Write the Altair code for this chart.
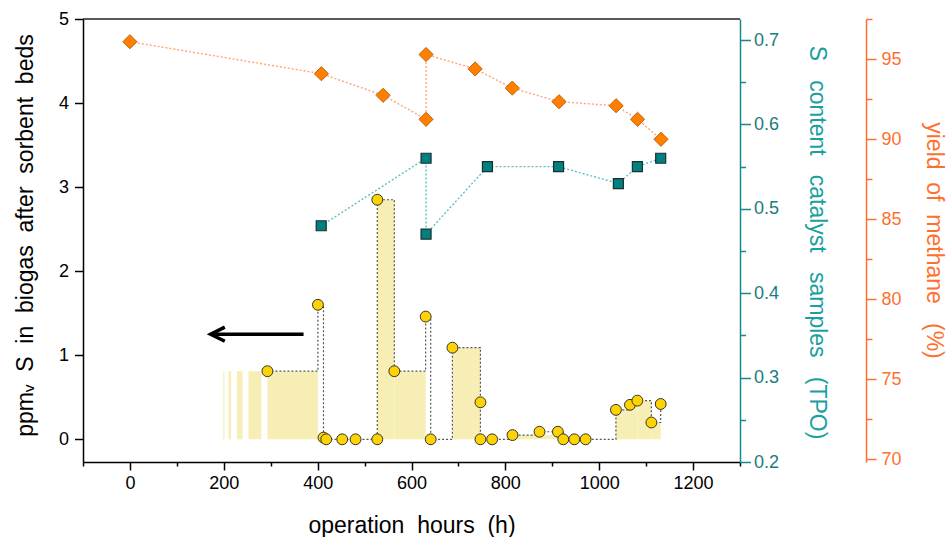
import altair as alt
import pandas as pd

# ---- data ----
# ppmv S in biogas after sorbent beds (yellow circles, left axis)
ppm_hours = [293, 400.6, 412.5, 418.3, 452.4, 480.8, 527.1, 527.1, 563.4, 630.2,
             640.9, 687.2, 746.9, 746.9, 771.9, 815.2, 872.8, 911.9, 923.4, 946.9,
             971, 1035.6, 1065.5, 1081.3, 1111.2, 1131]
ppm_values = [0.81, 1.6, 0.02, 0.0, 0.0, 0.0, 0.0, 2.85, 0.81, 1.46,
              0.0, 1.09, 0.44, 0.0, 0.0, 0.05, 0.09, 0.09, 0.0, 0.0,
              0.0, 0.35, 0.41, 0.46, 0.2, 0.42]

# shaded operating periods (yellow fill)
fill_start = [199, 210, 228, 252.5, 293, 527.1, 563.4, 687.2, 815.2, 1035.6, 1065.5, 1081.3, 1111.2]
fill_end = [201.5, 215.5, 240, 280, 400.6, 563.4, 630.2, 746.9, 911.9, 1065.5, 1081.3, 1111.2, 1131]
fill_level = [0.81, 0.81, 0.81, 0.81, 0.81, 2.85, 0.81, 1.09, 0.05, 0.35, 0.41, 0.46, 0.2]

# S content catalyst samples (TPO) (teal squares)
tpo_hours = [407.6, 631, 631, 761.8, 913.4, 1040.8, 1081.3, 1131]
tpo_values = [0.48, 0.56, 0.47, 0.55, 0.55, 0.53, 0.55, 0.56]

# yield of methane (%) (orange diamonds)
ch4_hours = [0, 408, 539.5, 631, 631, 735.6, 814.8, 914.4, 1036, 1081.7, 1131.6]
ch4_values = [96.1, 94.1, 92.75, 91.25, 95.3, 94.4, 93.2, 92.35, 92.1, 91.25, 90.0]

# arrow annotation
arrow_hours = [172, 370]
arrow_level = 1.25

# axis tick values
x_ticks = [-100, 0, 100, 200, 300, 400, 500, 600, 700, 800, 900, 1000, 1100, 1200, 1300]
left_ticks = [0, 0.5, 1, 1.5, 2, 2.5, 3, 3.5, 4, 4.5, 5]
tpo_ticks = [0.2, 0.25, 0.3, 0.35, 0.4, 0.45, 0.5, 0.55, 0.6, 0.65, 0.7]
ch4_ticks = [70, 72.5, 75, 77.5, 80, 82.5, 85, 87.5, 90, 92.5, 95, 97.5]

FONT = "Liberation Sans"
TEAL_AX = "#178A8A"
TEAL_LAB = "#1A7C7C"
TEAL_TIT = "#1AA0A0"
ORANGE = "#FF6F2D"

ppm_df = pd.DataFrame({"h": ppm_hours, "v": ppm_values, "i": list(range(len(ppm_hours)))})
fill_df = pd.DataFrame({"x0": fill_start, "x1": fill_end, "top": fill_level, "base": [0] * len(fill_start)})
tpo_df = pd.DataFrame({"h": tpo_hours, "v": tpo_values, "i": list(range(len(tpo_hours)))})
ch4_df = pd.DataFrame({"h": ch4_hours, "v": ch4_values, "i": list(range(len(ch4_hours)))})
arrow_df = pd.DataFrame({"h": arrow_hours, "v": [arrow_level, arrow_level]})
head_df = pd.DataFrame({"h": [arrow_hours[0]], "v": [arrow_level]})


def cond(test, major, minor):
    return {"condition": {"test": test, "value": major}, "value": minor}


x_scale = alt.Scale(domain=[-100, 1300], nice=False, zero=False)
x_axis = alt.Axis(
    values=x_ticks, format="d",
    labelExpr="(datum.value % 200 === 0 && datum.value >= 0 && datum.value <= 1200) ? datum.label : ''",
    tickSize=cond("datum.value % 200 === 0", 8, 4),
    labelOverlap=False, labelFlush=False, grid=False,
    domainColor="black", tickColor="black", domainWidth=1.5, tickWidth=1.5,
    labelColor="black", labelFontSize=18, labelPadding=4,
    title="operation\u00a0 hours\u00a0 (h)", titleFontSize=23, titleColor="black",
    titleBaseline="alphabetic", titleY=70,
)

left_scale = alt.Scale(domain=[-0.27, 5], nice=False, zero=False)
left_axis = alt.Axis(
    orient="left", values=left_ticks, format="d",
    labelExpr="datum.value % 1 === 0 ? datum.label : ''",
    tickSize=cond("datum.value % 1 === 0", 8.5, 4.5),
    labelOverlap=False, labelFlush=False, grid=False,
    domainColor="black", tickColor="black", domainWidth=1.5, tickWidth=1.5,
    labelColor="black", labelFontSize=18, labelPadding=6,
    title="ppm\u1d65\u00a0 S\u00a0 in\u00a0 biogas\u00a0 after\u00a0 sorbent\u00a0 beds",
    titleFontSize=23, titleColor="black", titleAngle=270,
    titleAlign="center", titleBaseline="middle", titleX=-58, titleY=216,
)

tpo_scale = alt.Scale(domain=[0.2, 0.725], nice=False, zero=False)
tpo_axis = alt.Axis(
    orient="right", values=tpo_ticks,
    labelExpr="abs(datum.value*10 - round(datum.value*10)) < 0.001 ? format(datum.value, '.1f') : ''",
    tickSize=cond("abs(datum.value*10 - round(datum.value*10)) < 0.001", 10.5, 5.5),
    labelOverlap=False, labelFlush=False, grid=False,
    domainColor=TEAL_AX, tickColor=TEAL_AX, domainWidth=1.5, tickWidth=1.5,
    labelColor=TEAL_LAB, labelFontSize=18, labelPadding=3,
    title="S\u00a0\u00a0 content\u00a0\u00a0 catalyst\u00a0\u00a0 samples\u00a0\u00a0 (TPO)",
    titleFontSize=23, titleColor=TEAL_TIT, titleAngle=90,
    titleAlign="center", titleBaseline="middle", titleX=76, titleY=223,
)

ch4_scale = alt.Scale(domain=[69.83, 97.52], nice=False, zero=False)
ch4_axis = alt.Axis(
    orient="right", offset=126, values=ch4_ticks, format="d",
    labelExpr="datum.value % 5 === 0 ? datum.label : ''",
    tickSize=cond("datum.value % 5 === 0", 10, 6),
    labelOverlap=False, labelFlush=False, grid=False,
    domainColor=ORANGE, tickColor=ORANGE, domainWidth=1.5, tickWidth=1.5,
    labelColor=ORANGE, labelFontSize=18, labelPadding=5,
    title="yield\u00a0 of\u00a0 methane\u00a0\u00a0 (%)",
    titleFontSize=23, titleColor=ORANGE, titleAngle=90,
    titleAlign="center", titleBaseline="middle", titleX=67, titleY=221,
)


def X(field):
    return alt.X(f"{field}:Q", scale=x_scale, axis=x_axis)


fill_layer = alt.Chart(fill_df).mark_rect(color="#F6EEB4", opacity=1).encode(
    x=X("x0"), x2=alt.X2("x1:Q"),
    y=alt.Y("base:Q", scale=left_scale, axis=left_axis), y2=alt.Y2("top:Q"),
)

step_layer = alt.Chart(ppm_df).mark_line(
    interpolate="step-after", color="#555555", strokeDash=[2, 2], strokeWidth=1.2
).encode(
    x=X("h"), y=alt.Y("v:Q", scale=left_scale, axis=None), order=alt.Order("i:Q"),
)

circle_layer = alt.Chart(ppm_df).mark_point(
    shape="circle", filled=True, fill="#FFD300", stroke="#333333",
    strokeWidth=1, size=118, opacity=1,
).encode(x=X("h"), y=alt.Y("v:Q", scale=left_scale, axis=None))

arrow_line = alt.Chart(arrow_df).mark_line(color="black", strokeWidth=3.5).encode(
    x=X("h"), y=alt.Y("v:Q", scale=left_scale, axis=None)
)

arrow_head = alt.Chart(head_df).mark_point(
    shape="M2,-1L0,0L2,1", filled=False, stroke="black", strokeWidth=3.5,
    size=200, opacity=1, strokeJoin="miter",
).encode(x=X("h"), y=alt.Y("v:Q", scale=left_scale, axis=None))

tpo_line = alt.Chart(tpo_df).mark_line(color="#5EC0C0", strokeDash=[2, 2], strokeWidth=1.4).encode(
    x=X("h"), y=alt.Y("v:Q", scale=tpo_scale, axis=tpo_axis), order=alt.Order("i:Q"),
)

tpo_pts = alt.Chart(tpo_df).mark_point(
    shape="square", filled=True, fill="#008080", stroke="#1E2E2E",
    strokeWidth=1.2, size=100, opacity=1,
).encode(x=X("h"), y=alt.Y("v:Q", scale=tpo_scale, axis=None))

ch4_line = alt.Chart(ch4_df).mark_line(color="#FFA46E", strokeDash=[2, 2], strokeWidth=1.4).encode(
    x=X("h"), y=alt.Y("v:Q", scale=ch4_scale, axis=ch4_axis), order=alt.Order("i:Q"),
)

ch4_pts = alt.Chart(ch4_df).mark_point(
    shape="diamond", filled=True, fill="#FF8000", stroke="#C2600C",
    strokeWidth=1, size=200, opacity=1,
).encode(x=X("h"), y=alt.Y("v:Q", scale=ch4_scale, axis=None))

frame_top = alt.Chart(pd.DataFrame({"a": [0]})).mark_rule(color="#222222", strokeWidth=1.5).encode(
    x=alt.value(0), x2=alt.value(657), y=alt.value(0)
)

chart = alt.layer(
    fill_layer, step_layer, circle_layer, arrow_line, arrow_head,
    tpo_line, tpo_pts, ch4_line, ch4_pts, frame_top,
).resolve_scale(y="independent").properties(
    width=657, height=443,
    autosize=alt.AutoSizeParams(type="none"),
    padding={"left": 83, "top": 19, "right": 207, "bottom": 75},
    background="white",
).configure_view(stroke=None).configure_axis(
    labelFont=FONT, titleFont=FONT, titleFontWeight="normal"
)

chart.save("out.html", embed_options={"renderer": "svg", "actions": False})
